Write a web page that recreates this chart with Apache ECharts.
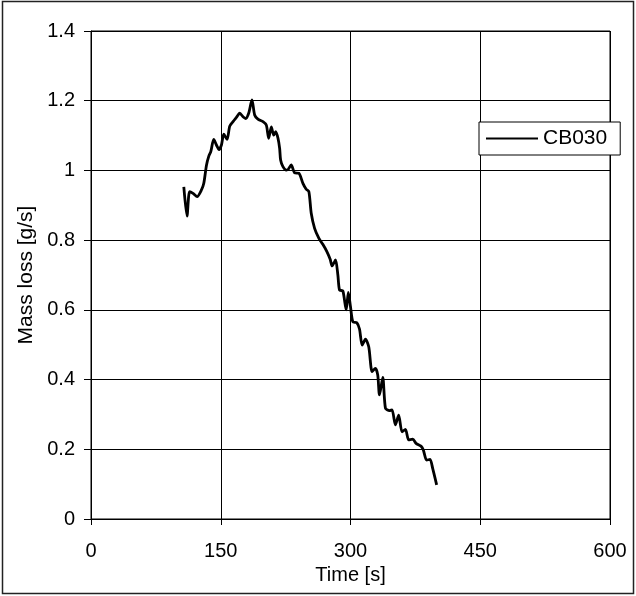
<!DOCTYPE html>
<html>
<head>
<meta charset="utf-8">
<script src="https://cdn.jsdelivr.net/npm/echarts@6/dist/echarts.min.js"></script>
<style>html,body{margin:0;padding:0;background:#fff}#c{width:636px;height:596px}</style>
</head>
<body>
<div id="c"></div>
<script>
const seriesName = 'CB030';
const timeS = [107.3,111,114,118,122.7,127.7,130.4,133.5,136.2,138.5,141.9,145,148,150.8,153.5,157.3,160.4,164.2,168.1,172,175.7,178.8,182.3,186.1,189.2,193,198.8,202.7,205.4,208.5,211.2,213.5,216.2,218.1,219.2,221.9,225.8,228,231.5,235.4,240.3,245,248.8,251.9,254.6,258.5,263.5,268,272.7,276.5,278.8,282.7,285.4,287.3,291.2,295,297.5,300,302.7,307.3,310.4,313.5,317.3,321.1,325,328.8,331.5,333.5,337.3,340.4,345,348,351.9,355.7,359.6,363.5,367.3,372,375.8,381.5,384.2,388,392,395,399.6];
const massLoss = [0.953,0.869,0.939,0.934,0.925,0.944,0.963,1.015,1.041,1.054,1.089,1.073,1.060,1.073,1.104,1.089,1.127,1.140,1.152,1.164,1.154,1.149,1.164,1.202,1.159,1.147,1.140,1.130,1.092,1.125,1.101,1.111,1.092,1.063,1.030,1.011,1.001,1.003,1.016,0.993,0.992,0.963,0.946,0.939,0.877,0.834,0.805,0.788,0.767,0.745,0.726,0.743,0.700,0.657,0.654,0.600,0.650,0.609,0.566,0.563,0.545,0.499,0.516,0.494,0.423,0.432,0.413,0.356,0.406,0.318,0.311,0.313,0.270,0.298,0.250,0.257,0.227,0.229,0.217,0.209,0.198,0.169,0.171,0.145,0.098];
const xTicks = [0,150,300,450,600];
const yTicks = [0,0.2,0.4,0.6,0.8,1,1.2,1.4];

const chart = echarts.init(document.getElementById('c'), null, {renderer:'canvas'});
const font = 'Arial, "Liberation Sans", sans-serif';
chart.setOption({
  animation:false,
  backgroundColor:'#fff',
  graphic:[{type:'rect',shape:{x:2.5,y:1.5,width:631,height:592},style:{fill:'none',stroke:'#222',lineWidth:1.5},silent:true}],
  grid:{left:91,right:26,top:31,bottom:77,show:true,borderColor:'#000',borderWidth:1,backgroundColor:'#fff'},
  legend:{
    left:479, top:122, orient:'vertical',
    data:[{name:seriesName, icon:'rect'}],
    itemWidth:52, itemHeight:2,
    backgroundColor:'#fff', borderColor:'#000', borderWidth:1,
    padding:[5,13,5,7],
    textStyle:{fontFamily:font,fontSize:21,color:'#000',lineHeight:23},
    itemStyle:{color:'#000'}
  },
  xAxis:{
    type:'value', min:xTicks[0], max:xTicks[xTicks.length-1], interval:150,
    name:'Time [s]', nameLocation:'middle', nameGap:42,
    nameTextStyle:{fontFamily:font,fontSize:20,color:'#000'},
    axisLine:{show:true,lineStyle:{color:'#000',width:1}},
    axisTick:{show:true,length:6,lineStyle:{color:'#000'}},
    axisLabel:{fontFamily:font,fontSize:20,color:'#000',margin:22},
    splitLine:{show:true,lineStyle:{color:'#000',width:1}}
  },
  yAxis:{
    type:'value', min:yTicks[0], max:yTicks[yTicks.length-1], interval:0.2,
    name:'Mass loss [g/s]', nameLocation:'middle', nameGap:47,
    nameTextStyle:{fontFamily:font,fontSize:21,color:'#000'},
    axisLine:{show:true,lineStyle:{color:'#000',width:1}},
    axisTick:{show:true,length:7,lineStyle:{color:'#000'}},
    axisLabel:{fontFamily:font,fontSize:20,color:'#000',margin:16,formatter:v=>String(Math.round(v*10)/10)},
    splitLine:{show:true,lineStyle:{color:'#000',width:1}}
  },
  series:[{
    name:seriesName, type:'line', symbol:'none', smooth:0.25,
    data:timeS.map((t,i)=>[t,massLoss[i]]),
    lineStyle:{color:'#000',width:2.8},
    itemStyle:{color:'#000'}
  }]
});
</script>
</body>
</html>
